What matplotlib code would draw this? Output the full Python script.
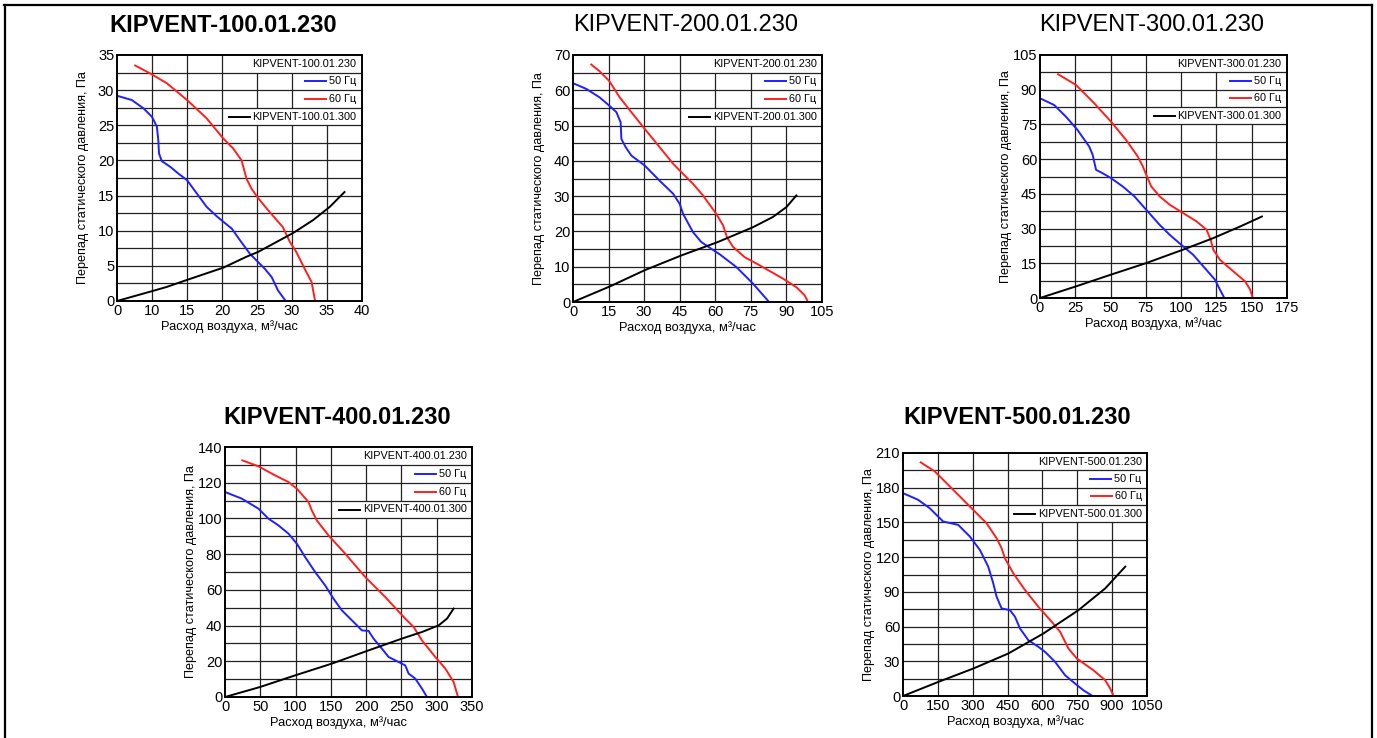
import numpy as np
import matplotlib
matplotlib.use("Agg")
import matplotlib.pyplot as plt
from matplotlib.lines import Line2D
from matplotlib.patches import Rectangle
import matplotlib.transforms as mtransforms

W, H = 1377, 738
REG = ['Liberation Sans', 'DejaVu Sans']

# KIPVENT-100 (left edge of x axis is labelled "0", next gridline "10")
p1_x50 = [5, 7.1, 8.8, 10, 10.7, 10.9, 11.0, 11.4, 12.6, 13.8, 15.0, 16.4, 17.8, 19.2, 20.4, 21.4, 22.6, 24.0, 24.9, 26.1, 27.1, 28.0, 29.1]
p1_y50 = [29.2, 28.6, 27.4, 26.2, 24.8, 22.9, 21.0, 19.9, 19.1, 18.1, 17.2, 15.3, 13.4, 12.1, 11.1, 10.3, 8.6, 6.7, 5.8, 4.6, 3.4, 1.5, 0]
p1_x60 = [7.6, 9.7, 12.1, 15.0, 17.8, 20.2, 21.6, 22.8, 23.5, 24.2, 25.2, 26.6, 28.7, 29.7, 30.6, 31.8, 32.8, 33.3]
p1_y60 = [33.5, 32.4, 31.0, 28.6, 26.0, 23.1, 21.7, 20.0, 17.4, 16.0, 14.6, 12.9, 10.5, 8.4, 7.0, 4.6, 2.7, 0]
p1_xs = [5, 10, 12.1, 15, 20.2, 23.5, 25.2, 30.2, 33.0, 35.4, 37.5]
p1_ys = [0, 1.4, 2.0, 3.0, 4.75, 6.3, 7.0, 9.7, 11.5, 13.4, 15.5]

# KIPVENT-200
p2_x50 = [0, 5.6, 11.2, 15.2, 18.3, 20.1, 20.4, 22.2, 24.6, 30.2, 36.5, 42.2, 45.0, 46.4, 50.6, 54.1, 57.6, 61.9, 68.9, 75.9, 82.7]
p2_y50 = [62.0, 60.4, 58.0, 55.7, 53.8, 50.9, 46.2, 43.9, 41.5, 38.7, 34.4, 30.7, 27.8, 25.0, 19.8, 17.0, 15.4, 13.5, 9.9, 5.2, 0]
p2_x60 = [7.7, 11.2, 15.2, 19.7, 24.6, 30.2, 36.5, 42.2, 45.7, 50.6, 54.8, 60.4, 63.3, 64.9, 67.5, 72.4, 78.7, 88.6, 94.2, 97.7, 99.1]
p2_y60 = [67.3, 65.4, 62.7, 58.0, 53.8, 49.1, 43.9, 39.2, 36.8, 33.5, 30.2, 25.0, 21.7, 18.4, 15.6, 12.7, 10.4, 6.6, 4.2, 1.9, 0]
p2_xs = [0, 15.5, 30.2, 45.7, 61.1, 75.9, 84.3, 90.0, 94.2]
p2_ys = [0, 4.4, 9.0, 13.2, 17.0, 21.2, 24.1, 26.9, 30.2]

# KIPVENT-300
p3_x50 = [0, 10.0, 18.3, 26.6, 34.9, 37.3, 39.7, 44.4, 50.3, 58.6, 66.9, 75.3, 84.8, 91.9, 101.4, 108.5, 116.8, 124, 127.5, 130.6]
p3_y50 = [86.3, 83.4, 78.4, 72.6, 65.4, 61.9, 55.4, 53.9, 51.8, 48.2, 43.9, 38.1, 31.6, 27.3, 22.3, 18.7, 12.9, 7.9, 3.6, 0]
p3_x60 = [12.8, 25.4, 38.5, 50.3, 61.0, 69.3, 72.9, 75.3, 78.8, 84.8, 91.9, 101.4, 110.9, 118, 120.9, 122.8, 127.5, 137, 145.3, 148.9, 150.8]
p3_y60 = [96.7, 92.1, 84.1, 76.2, 68.3, 61.1, 56.8, 53.2, 48.2, 43.9, 40.3, 36.7, 33.1, 29.5, 25.2, 20.9, 16.5, 11.5, 7.2, 3.6, 0]
p3_xs = [0, 25.4, 50.3, 75.3, 101.4, 122.8, 141.8, 157.2]
p3_ys = [0, 5.0, 10.1, 15.1, 20.9, 25.9, 30.9, 35.2]

# KIPVENT-400
p4_x50 = [0, 23.7, 47.3, 61.5, 75.7, 89.9, 101.7, 113.5, 127.7, 141.9, 153.7, 165.6, 184.5, 194, 203.4, 210.5, 222.3, 231.8, 246, 255.4, 260.2, 269.6, 279.1, 286.2]
p4_y50 = [114.8, 111.1, 105.5, 99.9, 96.1, 91.5, 85.9, 78.4, 70.0, 62.5, 55.1, 48.5, 41.1, 37.3, 37.0, 32.7, 27.1, 22.4, 19.6, 17.7, 13.1, 10.3, 4.7, 0]
p4_x60 = [24.6, 47.3, 71.0, 89.9, 101.7, 118.3, 123.0, 130.1, 146.6, 170.3, 198.7, 227, 255.4, 267.3, 279.1, 298, 312.2, 324, 330.2]
p4_y60 = [132.5, 129.2, 124.1, 120.4, 116.7, 109.2, 104.5, 98.9, 90.5, 80.3, 67.2, 56.0, 43.9, 39.2, 31.7, 22.4, 15.9, 8.4, 0]
p4_xs = [0, 49.7, 99.3, 151.4, 203.4, 250.7, 279.1, 302.7, 314.6, 324]
p4_ys = [0, 5.6, 12.1, 18.7, 26.1, 32.7, 36.4, 40.1, 43.9, 49.5]

# KIPVENT-500
p5_x50 = [0, 64.7, 115, 151, 172.6, 237.4, 287.7, 330.9, 366.8, 388.5, 402.8, 424.4, 460.3, 482, 503.5, 539.5, 582.6, 611.4, 654.5, 697.7, 740.8, 776.8, 815.6]
p5_y50 = [175.3, 169.6, 162.3, 155.1, 150.8, 147.9, 137.8, 126.2, 111.8, 97.3, 85.8, 75.7, 74.2, 68.5, 58.3, 48.2, 42.5, 38.1, 29.5, 17.9, 10.7, 4.9, 0]
p5_x60 = [76.2, 136.7, 208.6, 294.9, 359.6, 402.8, 424.4, 438.7, 474.7, 525, 582.6, 640.1, 676.1, 712.1, 748.0, 819.9, 870.3, 891.9, 906.2]
p5_y60 = [201.9, 194.1, 179.7, 162.3, 149.3, 136.3, 127.7, 119.0, 106.0, 91.6, 77.1, 64.1, 55.5, 41.0, 32.4, 22.2, 13.6, 6.4, 0]
p5_xs = [0, 151, 302, 453.1, 604.1, 755.2, 870.3, 956.5]
p5_ys = [0, 12.1, 23.7, 36.7, 54.0, 74.2, 93.0, 111.8]

names = ['KIPVENT-100.01.230', 'KIPVENT-200.01.230', 'KIPVENT-300.01.230',
         'KIPVENT-400.01.230', 'KIPVENT-500.01.230']
bold_title = [True, False, False, True, True]
freq_labels = ['50 Гц', '60 Гц']
ylabel = 'Перепад статического давления, Па'
xlabel = 'Расход воздуха, м³/час'

fig = plt.figure(figsize=(W / 100, H / 100), dpi=100)
renderer = fig.canvas.get_renderer()

# axes boxes in pixels: left, top, right, bottom
boxes = [(117, 55, 362, 301), (573, 55, 822, 302), (1040, 55, 1287, 298),
         (225, 447, 472, 697), (903, 453, 1147, 696)]
title_pos = [(223, 25), (686, 25), (1152, 25), (337, 418), (1017, 418)]

panels = [
    (p1_x50, p1_y50, p1_x60, p1_y60, p1_xs, p1_ys, 5, 40, 5, 35, 5),
    (p2_x50, p2_y50, p2_x60, p2_y60, p2_xs, p2_ys, 0, 105, 15, 70, 10),
    (p3_x50, p3_y50, p3_x60, p3_y60, p3_xs, p3_ys, 0, 175, 25, 105, 15),
    (p4_x50, p4_y50, p4_x60, p4_y60, p4_xs, p4_ys, 0, 350, 50, 140, 20),
    (p5_x50, p5_y50, p5_x60, p5_y60, p5_xs, p5_ys, 0, 1050, 150, 210, 30),
]

for i, (x50, y50, x60, y60, xs, ys, xmin, xmax, xstep, ymax, ystep) in enumerate(panels):
    l, t, r, b = boxes[i]
    ax = fig.add_axes([l / W, 1 - b / H, (r - l) / W, (b - t) / H])
    ax.set_xlim(xmin, xmax)
    ax.set_ylim(0, ymax)
    xt = np.arange(xmin, xmax + xstep / 2, xstep)
    yt = np.arange(0, ymax + ystep / 2, ystep)
    ax.set_xticks(xt)
    xlabs = [str(int(v)) for v in xt]
    if i == 0:
        xlabs[0] = '0'
    ax.set_xticklabels(xlabs)
    ax.set_yticks(yt)
    ax.set_yticklabels([str(int(v)) for v in yt])
    ax.tick_params(length=0, pad=2, labelsize=10.5)
    for lab in ax.get_xticklabels() + ax.get_yticklabels():
        lab.set_family(REG)
    for s in ax.spines.values():
        s.set_linewidth(1.4)
        s.set_zorder(6)

    # grid: verticals at majors, horizontals every half step
    for v in xt[1:-1]:
        ax.axvline(v, color='#222222', lw=0.9, zorder=1)
    for v in np.arange(ystep / 2, ymax, ystep / 2):
        ax.axhline(v, color='#222222', lw=0.9, zorder=2)

    ax.plot(x50, y50, color='#1f1fff', lw=1.4, zorder=3, solid_joinstyle='round')
    ax.plot(x60, y60, color='#ff1f1f', lw=1.4, zorder=3, solid_joinstyle='round')
    ax.plot(xs, ys, color='black', lw=1.4, zorder=3, solid_joinstyle='round')

    # legend rows sitting in the top four grid bands
    trans = mtransforms.blended_transform_factory(ax.transAxes, ax.transData)
    h = ystep / 2
    rows = [names[i], freq_labels[0], freq_labels[1], names[i].replace('.230', '.300')]
    cols = [None, '#1f1fff', '#ff1f1f', 'black']
    ax_w = r - l
    for k, (txt, c) in enumerate(zip(rows, cols)):
        yc = ymax - (k + 0.5) * h
        tx = ax.text(0.978, yc, txt, transform=trans, ha='right', va='center',
                     fontsize=7.8, family=REG, zorder=5)
        bb = tx.get_window_extent(renderer)
        x0 = (bb.x0 - ax.bbox.x0) / ax.bbox.width
        start = x0 - 3 / ax_w
        if c is not None:
            hl = 21 / ax_w
            ax.plot([x0 - 3 / ax_w - hl, x0 - 3 / ax_w], [yc, yc], transform=trans,
                    color=c, lw=1.4, zorder=5)
            start = x0 - 5 / ax_w - hl
        ax.add_patch(Rectangle((start, yc - h / 2), 1 - start, h, transform=trans,
                               facecolor='white', edgecolor='none', zorder=1.5))

    ax.set_ylabel(ylabel, fontsize=9.1, family=REG)
    ax.yaxis.set_label_coords(-28 / (r - l), 0.5)
    ax.set_xlabel(xlabel, fontsize=9.3, family=REG)
    ax.xaxis.set_label_coords(0.46, -19 / (b - t))

    tx, ty = title_pos[i]
    fig.text(tx / W, 1 - ty / H, names[i], ha='center', va='center', fontsize=17,
             family=REG, fontweight='bold' if bold_title[i] else 'normal')

# page frame
fig.add_artist(Line2D([4 / W, 1372 / W], [1 - 4.5 / H, 1 - 4.5 / H], color='black', lw=1.6))
fig.add_artist(Line2D([4.5 / W, 4.5 / W], [0, 1 - 4.5 / H], color='black', lw=1.6))
fig.add_artist(Line2D([1371.5 / W, 1371.5 / W], [0, 1 - 4.5 / H], color='black', lw=1.6))

fig.savefig('out.png', dpi=100)
